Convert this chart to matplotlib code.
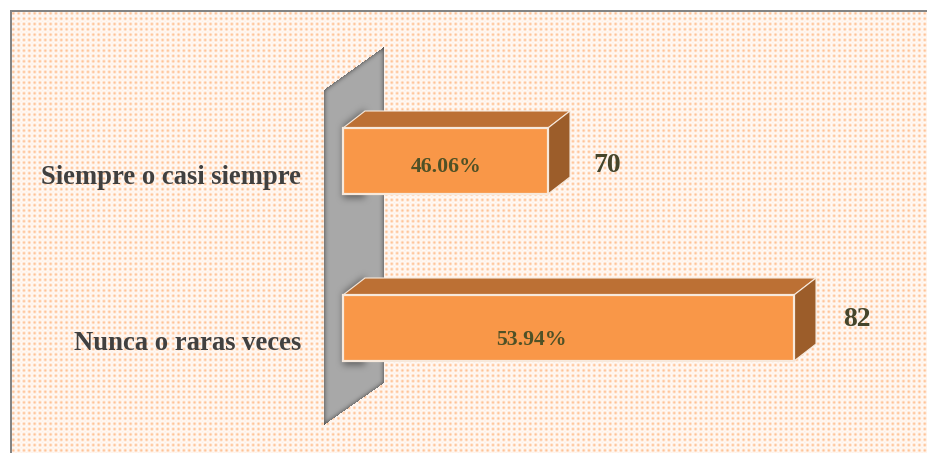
import numpy as np
import matplotlib
matplotlib.use("Agg")
import matplotlib.pyplot as plt
from matplotlib.patches import Polygon

# ---- data ----
categories = ["Nunca o raras veces", "Siempre o casi siempre"]
counts = [82, 70]
shares = ["53.94%", "46.06%"]

# ---- styling ----
W, H = 927, 453
AXIS_START = 60          # value axis does not begin at zero
PX_PER_UNIT = 20.5
BASE_PX = 343
ROW_PX = 167
ROW0_PX = 328
BAR_H = 66 / ROW_PX
DEPTH_X, DEPTH_Y = 22, 17  # px
FRONT, TOP, SIDE, EDGE = "#F99748", "#BC7034", "#9C5D2A", "#F7E9DC"
px = 1 / 100 * 72  # points per pixel


def blur(a, s, n=3):
    r = int(s)
    k = np.ones(2 * r + 1) / (2 * r + 1)
    for _ in range(n):
        a = np.apply_along_axis(lambda v: np.convolve(np.pad(v, r, mode="edge"), k, "valid"), 0, a)
        a = np.apply_along_axis(lambda v: np.convolve(np.pad(v, r, mode="edge"), k, "valid"), 1, a)
    return a


# ---- textured background with frame ----
yy, xx = np.mgrid[0:H, 0:W] + 0.5
DX, DY = 5.33, 5.33


def lattice(ox, oy, s):
    cx = (np.floor((xx - ox) / DX) + 0.5) * DX + ox
    cy = (np.floor((yy - oy) / DY) + 0.5) * DY + oy
    return np.exp(-((xx - cx) ** 2 + (yy - cy) ** 2) / (2 * s ** 2))


p = np.clip(lattice(0, 0, 1.1) + 0.25 * lattice(DX / 2, DY / 2, 0.8), 0, 1)
white = np.array([1.0, 1.0, 1.0])
dot = np.array([1.0, 0.76, 0.58])
img = white[None, None, :] * (1 - p[..., None]) + dot[None, None, :] * p[..., None]
img[:12, :] = 1
img[:, :12] = 1
img[10:12, 10:] = 0.52
img[10:, 10:12] = 0.52

# ---- grey wall behind the bars ----
WL, WR = BASE_PX - 19, BASE_PX + 41
top_edge = 90 - (xx - WL) * 43 / 60
bot_edge = 425 - (xx - WL) * 42 / 60
wall = ((xx >= WL) & (xx <= WR) & (yy >= top_edge) & (yy <= bot_edge)).astype(float)
soft = blur(wall, 2)
shade = 0.66 - 0.26 * np.clip(1 - soft, 0, 1) * 1.6
for i in range(len(counts)):
    c = ROW0_PX - i * ROW_PX
    t, b = c - 33, c + 33
    sm = ((xx >= BASE_PX) & (xx <= BASE_PX + 22) &
          (yy >= t - (xx - BASE_PX) * DEPTH_Y / DEPTH_X - 2) & (yy <= b + 4)).astype(float)
    shade = shade * (1 - 0.42 * blur(sm, 3))
img = np.where(wall[..., None] > 0, shade[..., None] * np.ones(3), img)

# ---- chart ----
fig = plt.figure(figsize=(W / 100, H / 100), dpi=100)
ax = fig.add_axes([0, 0, 1, 1])
x0 = AXIS_START - BASE_PX / PX_PER_UNIT
x1 = AXIS_START + (W - BASE_PX) / PX_PER_UNIT
y0 = (ROW0_PX - H) / ROW_PX
y1 = ROW0_PX / ROW_PX
ax.imshow(img, extent=[x0, x1, y0, y1], aspect="auto", interpolation="nearest", zorder=0)
ax.set_xlim(x0, x1)
ax.set_ylim(y0, y1)
ax.axis("off")

ddx, ddy = DEPTH_X / PX_PER_UNIT, DEPTH_Y / ROW_PX
ypos = np.arange(len(categories))
widths = [v - AXIS_START for v in counts]
ax.barh(ypos, widths, left=AXIS_START, height=BAR_H, color=FRONT,
        edgecolor=EDGE, linewidth=1.6, zorder=3)
for y, v in zip(ypos, counts):
    t, b = y + BAR_H / 2, y - BAR_H / 2
    ax.add_patch(Polygon([(AXIS_START, t), (v, t), (v + ddx, t + ddy), (AXIS_START + ddx, t + ddy)],
                         facecolor=TOP, edgecolor=EDGE, linewidth=0.8, zorder=2))
    ax.add_patch(Polygon([(v, t), (v + ddx, t + ddy), (v + ddx, b + ddy), (v, b)],
                         facecolor=SIDE, edgecolor=EDGE, linewidth=0.8, zorder=2))

serif = "Liberation Serif"
cat_off = [(0, -15), (0, -16)]
val_off = [(63, 8), (59, -4)]
pct_off = [(-37, -12), (1, -6)]
for y, v, cat, s, co, vo, po in zip(ypos, counts, categories, shares, cat_off, val_off, pct_off):
    ax.annotate(cat, (AXIS_START, y), xytext=(-42 * px, co[1] * px), textcoords="offset points",
                ha="right", va="center", family=serif, weight="bold", fontsize=19.2, color="#404040", zorder=5)
    ax.annotate(str(v), (v, y), xytext=(vo[0] * px, vo[1] * px), textcoords="offset points",
                ha="center", va="center", family=serif, weight="bold", fontsize=20, color="#45452B", zorder=5)
    ax.annotate(s, ((AXIS_START + v) / 2, y), xytext=(po[0] * px, po[1] * px), textcoords="offset points",
                ha="center", va="center", family=serif, weight="bold", fontsize=15.7, color="#4F5126", zorder=5)

fig.savefig("out.png", dpi=100)
